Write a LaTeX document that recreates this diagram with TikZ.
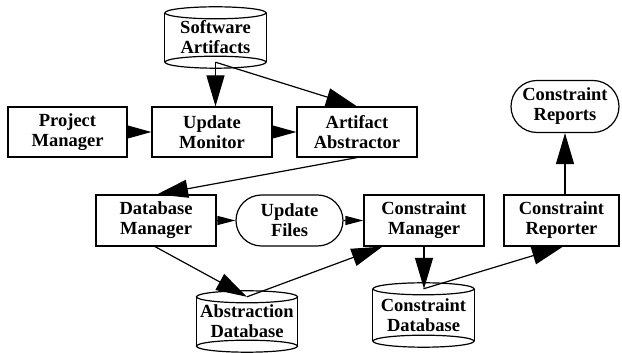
\documentclass[tikz,border=0pt]{standalone}
\usepackage{fontspec}
\setmainfont{Liberation Serif}
\usetikzlibrary{arrows.meta,shapes.misc,calc}
\tikzset{
  every node/.style={font=\fontsize{18.5}{20}\selectfont\bfseries, align=center, inner sep=0pt},
  boxnode/.style={draw, line width=1.2pt, minimum height=50pt},
  pillnode/.style={draw, line width=1.2pt, rounded rectangle, minimum height=52pt},
  cylnode/.style={minimum width=101pt},
  conn/.style={line width=1.2pt},
  bigtip/.style={-{Triangle[length=31pt,width=18pt]}},
  midtip/.style={-{Triangle[length=24pt,width=13pt]}},
  smalltip/.style={-{Triangle[length=18pt,width=9pt]}}
}
\newcommand\drawcyl[1]{%
  \draw[line width=1.2pt] ([yshift=-6pt]#1.north west) -- ([yshift=6pt]#1.south west)
        ([yshift=-6pt]#1.north east) -- ([yshift=6pt]#1.south east);
  \draw[line width=1.2pt] ([yshift=-6pt]#1.north) ellipse[x radius=50.5pt, y radius=6pt];
  \draw[line width=1.2pt] ([yshift=6pt]#1.south) ellipse[x radius=50.5pt, y radius=6pt];
  \coordinate (#1-top) at ([yshift=-6pt]#1.north);
  \coordinate (#1-bot) at ([yshift=6pt]#1.south);
}
\begin{document}
\begin{tikzpicture}[x=1pt,y=1pt]
\useasboundingbox (0,0) rectangle (622,353);
% cylinders
\node[cylnode, minimum height=61pt] (sa) at (215.5,315.5) {Software\\Artifacts};
\drawcyl{sa}
\node[cylnode, minimum height=61pt] (ad) at (247,31.5) {Abstraction\\Database};
\drawcyl{ad}
\node[cylnode, minimum height=64pt] (cd) at (423.5,38) {Constraint\\Database};
\drawcyl{cd}
% boxes
\node[boxnode, minimum width=119pt] (pm) at (67.5,221) {Project\\Manager};
\node[boxnode, minimum width=120pt] (um) at (212,221) {Update\\Monitor};
\node[boxnode, minimum width=120pt] (aa) at (357,221) {Artifact\\Abstractor};
\node[pillnode, minimum width=108pt] (crs) at (565,246.5) {Constraint\\Reports};
\node[boxnode, minimum width=120pt, minimum height=51pt] (dm) at (156,132.5) {Database\\Manager};
\node[pillnode, minimum width=107pt, minimum height=51pt] (uf) at (289.5,132.5) {Update\\Files};
\node[boxnode, minimum width=120pt, minimum height=51pt] (cm) at (424,132.5) {Constraint\\Manager};
\node[boxnode, minimum width=115pt, minimum height=51pt] (crr) at (561.5,132.5) {Constraint\\Reporter};
% connectors
\draw[conn, bigtip] (sa-bot) -- (sa-bot |- um.north);
\draw[conn, bigtip] (sa-bot) -- (aa.north);
\draw[conn, midtip] (pm) -- (um);
\draw[conn, midtip] (um) -- (aa);
\draw[conn, bigtip] (aa.south) -- ([xshift=1pt]dm.north);
\draw[conn, smalltip] (dm) -- (uf);
\draw[conn, smalltip] (uf) -- (cm);
\draw[conn, bigtip] ([xshift=-1pt]dm.south) -- (ad-top);
\draw[conn, bigtip] (ad-top) -- ([xshift=19pt]cm.south west);
\draw[conn, bigtip] (cm.south) -- (cm.south |- cd-top);
\draw[conn, bigtip] (cd-top) -- ([xshift=1.5pt]crr.south);
\draw[conn, bigtip] ([xshift=3.5pt]crr.north) -- (crs.south);
\end{tikzpicture}
\end{document}
